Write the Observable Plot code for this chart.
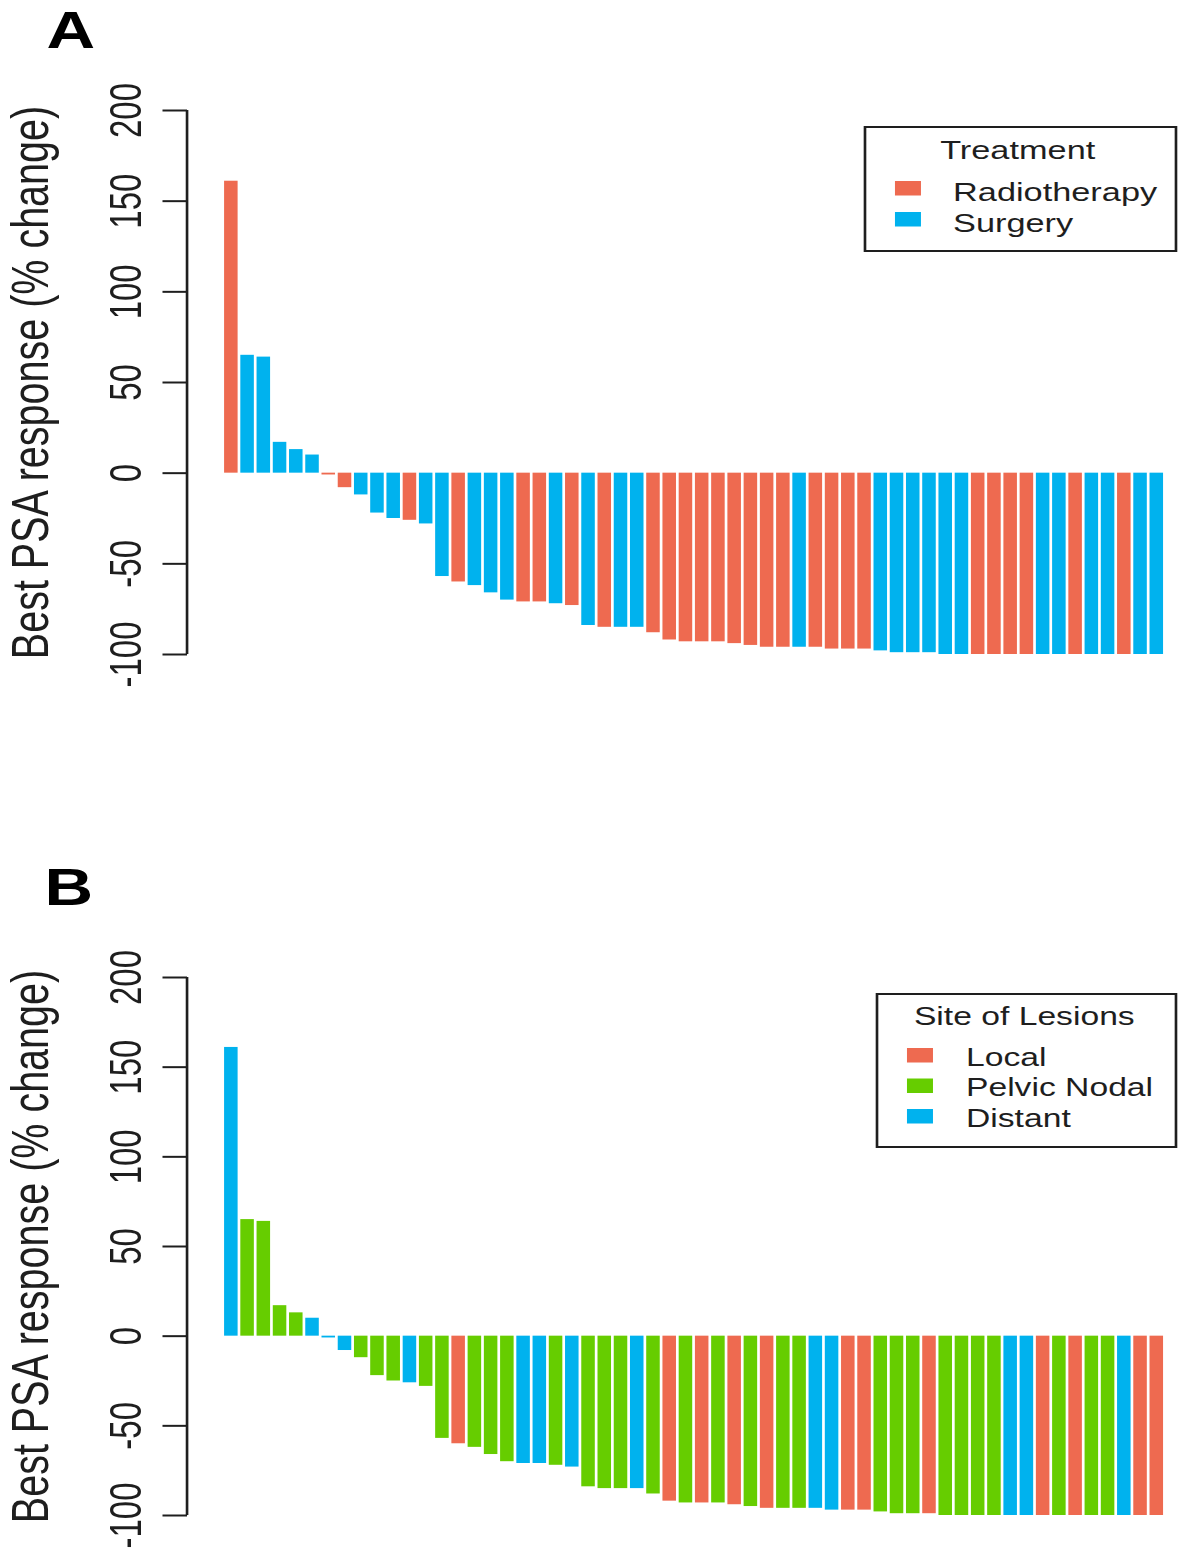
<!DOCTYPE html>
<html>
<head>
<meta charset="utf-8">
<script src="https://cdn.jsdelivr.net/npm/d3@7"></script>
<script src="https://cdn.jsdelivr.net/npm/@observablehq/plot@0.6"></script>
<style>
  html, body { margin: 0; padding: 0; background: #fff; }
  #root { position: relative; width: 1180px; height: 1552px; overflow: hidden; background: #fff; }
  .panel { position: absolute; left: 0; width: 894px; transform: scaleX(1.32); transform-origin: 0 0; }
  .panel svg { position: absolute; left: 0; top: 0; overflow: visible; }
</style>
</head>
<body>
<div id="root"></div>
<script>
// ---------- data ----------
const patients = d3.range(1, 59); // 58 patients, ordered as in the waterfall

const psaChange = [
  161, 65, 64, 17, 13, 10, -1, -8, -12, -22,
  -25, -26, -28, -57, -60, -62, -66, -70, -71, -71,
  -72, -73, -84, -85, -85, -85, -88, -92, -93, -93,
  -93, -94, -95, -96, -96, -96, -96, -97, -97, -97,
  -98, -99, -99, -99, -100, -100, -100, -100, -100, -100,
  -100, -100, -100, -100, -100, -100, -100, -100
];

const treatment = [
  "Radiotherapy","Surgery","Surgery","Surgery","Surgery","Surgery","Radiotherapy","Radiotherapy","Surgery","Surgery",
  "Surgery","Radiotherapy","Surgery","Surgery","Radiotherapy","Surgery","Surgery","Surgery","Radiotherapy","Radiotherapy",
  "Surgery","Radiotherapy","Surgery","Radiotherapy","Surgery","Surgery","Radiotherapy","Radiotherapy","Radiotherapy","Radiotherapy",
  "Radiotherapy","Radiotherapy","Radiotherapy","Radiotherapy","Radiotherapy","Surgery","Radiotherapy","Radiotherapy","Radiotherapy","Radiotherapy",
  "Surgery","Surgery","Surgery","Surgery","Surgery","Surgery","Radiotherapy","Radiotherapy","Radiotherapy","Radiotherapy",
  "Surgery","Surgery","Radiotherapy","Surgery","Surgery","Radiotherapy","Surgery","Surgery"
];

const siteOfLesions = [
  "Distant","Pelvic Nodal","Pelvic Nodal","Pelvic Nodal","Pelvic Nodal","Distant","Distant","Distant","Pelvic Nodal","Pelvic Nodal",
  "Pelvic Nodal","Distant","Pelvic Nodal","Pelvic Nodal","Local","Pelvic Nodal","Pelvic Nodal","Pelvic Nodal","Distant","Distant",
  "Pelvic Nodal","Distant","Pelvic Nodal","Pelvic Nodal","Pelvic Nodal","Distant","Pelvic Nodal","Local","Pelvic Nodal","Local",
  "Pelvic Nodal","Local","Pelvic Nodal","Local","Pelvic Nodal","Pelvic Nodal","Distant","Distant","Local","Local",
  "Pelvic Nodal","Pelvic Nodal","Pelvic Nodal","Local","Pelvic Nodal","Pelvic Nodal","Pelvic Nodal","Pelvic Nodal","Distant","Distant",
  "Local","Pelvic Nodal","Local","Pelvic Nodal","Pelvic Nodal","Distant","Local","Local"
];

const treatmentLevels = ["Radiotherapy", "Surgery"];
const treatmentColors = ["#EE6A50", "#00B2EE"];
const siteLevels = ["Local", "Pelvic Nodal", "Distant"];
const siteColors = ["#EE6A50", "#66CD00", "#00B2EE"];

const yTicks = [-100, -50, 0, 50, 100, 150, 200];
const yDomain = [-100, 200];
const yLabel = "Best PSA response (% change)";

// ---------- drawing ----------
const FONT = '"Liberation Sans", Arial, Helvetica, sans-serif';
const INK = "#1e1e1e";

function axisLine(index, scales, values, dimensions) {
  const x = dimensions.marginLeft;
  return d3.create("svg:line")
    .attr("x1", x).attr("x2", x)
    .attr("y1", scales.y(yDomain[1])).attr("y2", scales.y(yDomain[0]))
    .attr("stroke", INK).attr("stroke-width", 2)
    .node();
}

function makePanel(cfg) {
  const rows = patients.map((id, i) => ({id, value: psaChange[i], group: cfg.groups[i]}));
  const plotH = cfg.plotHeight;
  const chart = Plot.plot({
    width: 894,
    height: cfg.height,
    marginLeft: 141.7,
    marginRight: 0,
    marginTop: cfg.marginTop,
    marginBottom: cfg.height - cfg.marginTop - plotH,
    x: {type: "band", domain: patients, paddingInner: 0.2 / 1.2, paddingOuter: 1.665, align: 0.685, round: false, axis: null},
    y: {domain: yDomain},
    color: {domain: cfg.levels, range: cfg.colors},
    style: {fontFamily: FONT, fontSize: "33px", background: "transparent", color: INK},
    marks: [
      Plot.barY(rows, {x: "id", y: "value", fill: "group"}),
      Plot.axisY({
        ticks: yTicks, tickSize: 18.6, tickPadding: 17, tickRotate: -90,
        tickFormat: d => String(d), fontSize: 33, stroke: INK, strokeWidth: 2, fill: INK, label: null
      }),
      axisLine,
      Plot.text([yLabel], {
        frameAnchor: "left", text: d => d, rotate: -90, dx: -106.1,
        textAnchor: "middle", lineAnchor: "bottom", fontSize: 39.5, fill: INK
      }),
      Plot.text([cfg.letter], {
        frameAnchor: "top-left", text: d => d, dx: cfg.letterDx, dy: cfg.letterDy,
        textAnchor: "start", lineAnchor: "bottom", fontSize: 51, fontWeight: "bold", fill: "#000"
      })
    ]
  });

  const div = document.createElement("div");
  div.className = "panel";
  div.style.top = cfg.top + "px";
  div.style.height = cfg.height + "px";
  div.appendChild(chart);

  // legend box (layout in panel pixels)
  const L = cfg.legend;
  const svg = d3.create("svg")
    .attr("width", 894).attr("height", cfg.height)
    .style("font-family", FONT);
  svg.append("rect")
    .attr("x", L.x).attr("y", L.y).attr("width", L.w).attr("height", L.h)
    .attr("fill", "#fff").attr("stroke", INK).attr("stroke-width", 2);
  svg.append("text")
    .attr("x", L.titleX).attr("y", L.titleBaseline)
    .attr("text-anchor", "middle").attr("font-size", L.fontSize).attr("fill", INK)
    .text(cfg.title);
  cfg.levels.forEach((lev, i) => {
    const top = L.swatchTop + i * L.rowStep;
    svg.append("rect")
      .attr("x", L.swatchX).attr("y", top).attr("width", 19.7).attr("height", 14.5)
      .attr("fill", cfg.colors[i]);
    svg.append("text")
      .attr("x", L.labelX).attr("y", top + L.baselineOffset)
      .attr("font-size", L.fontSize).attr("fill", INK)
      .text(lev);
  });
  div.appendChild(svg.node());
  document.getElementById("root").appendChild(div);
}

makePanel({
  top: 0, height: 780, marginTop: 110, plotHeight: 544,
  groups: treatment, levels: treatmentLevels, colors: treatmentColors,
  letter: "A", letterDx: -107, letterDy: -63,
  title: "Treatment",
  legend: {x: 655.3, y: 127, w: 235.6, h: 124, titleX: 771, titleBaseline: 159,
           swatchX: 678, swatchTop: 181, rowStep: 31, baselineOffset: 20, labelX: 722, fontSize: 26}
});

makePanel({
  top: 780, height: 772, marginTop: 197, plotHeight: 538,
  groups: siteOfLesions, levels: siteLevels, colors: siteColors,
  letter: "B", letterDx: -108.5, letterDy: -73,
  title: "Site of Lesions",
  legend: {x: 664.4, y: 214, w: 226.5, h: 153, titleX: 776, titleBaseline: 245,
           swatchX: 687.1, swatchTop: 268, rowStep: 30.5, baselineOffset: 18, labelX: 731.8, fontSize: 25.5}
});
</script>
</body>
</html>
